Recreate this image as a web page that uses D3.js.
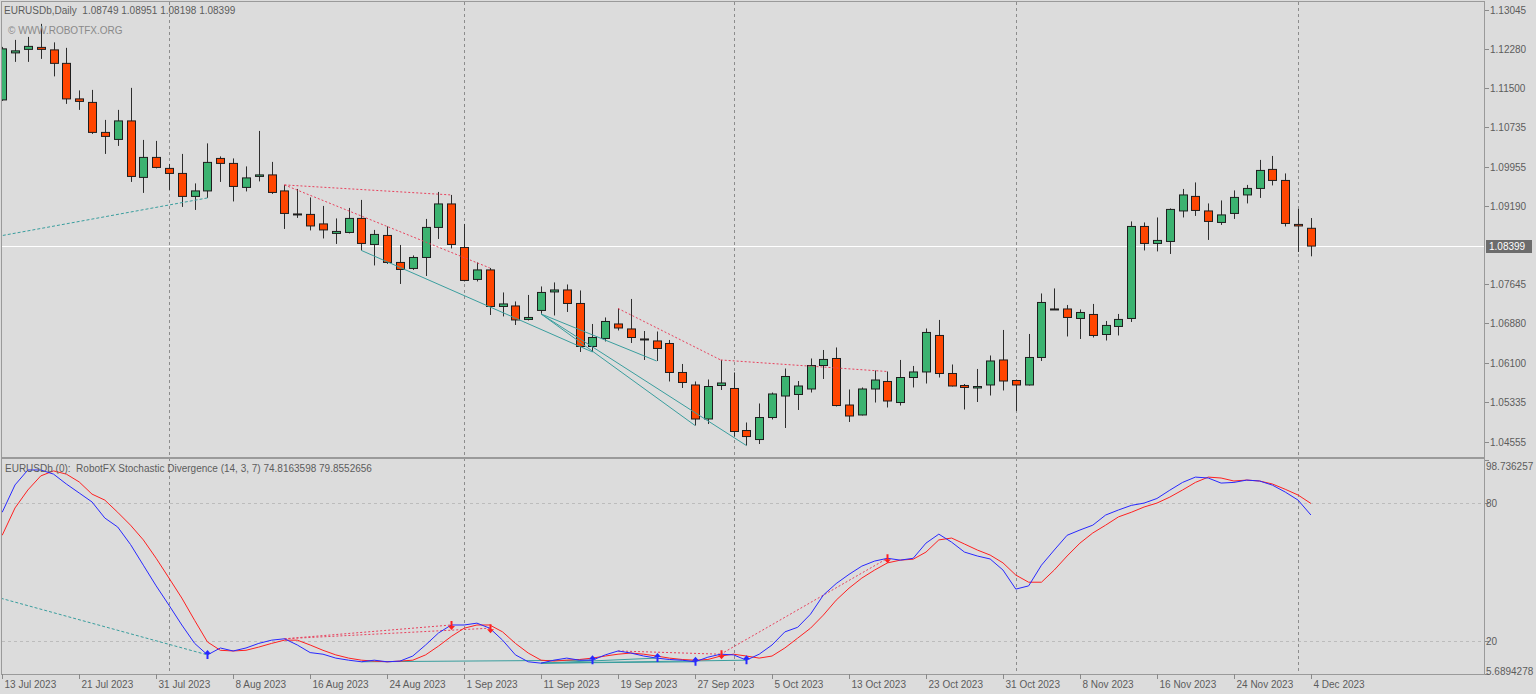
<!DOCTYPE html>
<html>
<head>
<meta charset="utf-8">
<script src="https://cdn.jsdelivr.net/npm/d3@7"></script>
<style>
  html, body { margin: 0; padding: 0; background: #dcdcdc; }
  svg { display: block; font-family: "Liberation Sans", Arial, sans-serif; }
  text { white-space: pre; }
</style>
</head>
<body>
<div id="chart"></div>
<script>
// EURUSDb Daily - candles + RobotFX Stochastic Divergence (14,3,7)

// --- data ---
const openP = [1.11274,1.12199,1.12268,1.12307,1.12258,1.11993,1.11294,1.11225,1.10635,1.10497,
  1.10861,1.09750,1.10143,1.09927,1.09828,1.09376,1.09484,1.10123,1.10025,1.09553,
  1.09769,1.09799,1.09484,1.09031,1.09022,1.08835,1.08648,1.08667,1.08943,1.08431,
  1.08608,1.08077,1.07959,1.08175,1.08766,1.09228,1.08372,1.07743,1.07930,1.07211,
  1.07221,1.06956,1.07133,1.07497,1.07536,1.07270,1.06424,1.06582,1.06867,1.06769,
  1.06572,1.06533,1.06483,1.05913,1.05667,1.04998,1.05657,1.05598,1.04771,1.04594,
  1.05027,1.05450,1.05480,1.05588,1.06050,1.06188,1.05273,1.05077,1.05588,1.05736,
  1.05322,1.05814,1.05923,1.06641,1.05893,1.05657,1.05608,1.05667,1.06159,1.05755,
  1.05667,1.06208,1.07162,1.07162,1.06975,1.07054,1.06660,1.06818,1.06975,1.08785,
  1.08451,1.08490,1.09090,1.09376,1.09090,1.08864,1.09041,1.09405,1.09533,1.09907,
  1.09690,1.08825,1.08749];
const highP = [1.12317,1.12455,1.12514,1.12770,1.12406,1.12298,1.11461,1.11471,1.10881,1.11078,
  1.11511,1.10487,1.10468,1.10015,1.10212,1.09632,1.10419,1.10163,1.10123,1.09966,
  1.10664,1.10055,1.09602,1.09523,1.09356,1.09189,1.08943,1.09149,1.09307,1.08717,
  1.08785,1.08421,1.08215,1.08933,1.09464,1.09405,1.08835,1.08077,1.07969,1.07487,
  1.07310,1.07438,1.07605,1.07684,1.07644,1.07526,1.06867,1.06995,1.07172,1.07359,
  1.06729,1.06719,1.06552,1.06080,1.05736,1.05775,1.06159,1.05913,1.04929,1.05303,
  1.05519,1.05991,1.05745,1.06188,1.06355,1.06405,1.05578,1.05618,1.05952,1.05932,
  1.06159,1.06041,1.06778,1.06946,1.06070,1.05686,1.05982,1.06247,1.06749,1.05775,
  1.06670,1.07467,1.07566,1.07241,1.07152,1.07261,1.06926,1.07064,1.08884,1.08864,
  1.08962,1.09140,1.09523,1.09651,1.09238,1.09297,1.09494,1.09602,1.10094,1.10172,
  1.09828,1.09130,1.08951];
const lowP = [1.11255,1.12022,1.12022,1.12081,1.11737,1.11196,1.11078,1.10605,1.10212,1.10369,
  1.09661,1.09445,1.09927,1.09504,1.09169,1.09110,1.09346,1.09661,1.09277,1.09474,
  1.09671,1.09425,1.08736,1.08953,1.08707,1.08549,1.08441,1.08648,1.08313,1.08018,
  1.08048,1.07654,1.07930,1.07811,1.08539,1.08353,1.07703,1.07703,1.07044,1.07015,
  1.06847,1.06936,1.07064,1.07034,1.07103,1.06316,1.06316,1.06523,1.06739,1.06493,
  1.06159,1.06139,1.05736,1.05608,1.04870,1.04899,1.05568,1.04653,1.04476,1.04506,
  1.04988,1.04821,1.05175,1.05519,1.05785,1.05244,1.04939,1.05067,1.05322,1.05224,
  1.05263,1.05618,1.05696,1.05814,1.05637,1.05185,1.05332,1.05460,1.05559,1.05155,
  1.05657,1.06139,1.07142,1.06621,1.06572,1.06601,1.06542,1.06641,1.06906,1.08313,
  1.08294,1.08244,1.08962,1.08992,1.08520,1.08815,1.08933,1.09238,1.09346,1.09592,
  1.08785,1.08284,1.08198];
const closeP = [1.12278,1.12239,1.12327,1.12268,1.11993,1.11294,1.11245,1.10635,1.10556,1.10861,
  1.09769,1.10143,1.09946,1.09828,1.09376,1.09484,1.10045,1.10025,1.09572,1.09740,
  1.09799,1.09454,1.09041,1.09022,1.08795,1.08717,1.08687,1.08943,1.08451,1.08628,
  1.08077,1.07939,1.08175,1.08766,1.09228,1.08431,1.07723,1.07930,1.07211,1.07261,
  1.06946,1.06995,1.07487,1.07536,1.07270,1.06424,1.06601,1.06916,1.06788,1.06601,
  1.06562,1.06385,1.05913,1.05716,1.04998,1.05637,1.05706,1.04752,1.04653,1.05027,
  1.05490,1.05834,1.05647,1.06050,1.06169,1.05263,1.05057,1.05588,1.05765,1.05352,
  1.05814,1.05923,1.06700,1.05893,1.05647,1.05618,1.05637,1.06139,1.05745,1.05667,
  1.06208,1.07290,1.07152,1.06995,1.07093,1.06641,1.06838,1.06956,1.08785,1.08451,
  1.08510,1.09120,1.09405,1.09100,1.08884,1.09012,1.09356,1.09533,1.09887,1.09690,
  1.08844,1.08795,1.08399];

// stochastic main (blue) and signal (red)
const stochMain = [76,87.9,94.4,94.4,92.6,88.3,84.4,80.5,73.5,69.6,
  62,53,44,35.6,27,19,14,17,15.7,17,
  19,20.4,21,18.3,15,14.3,12.6,11.7,11,11.7,
  11,11.3,13.5,18.3,23.5,27,27,27.8,25.6,20.4,
  14,11,10.4,11.7,12.6,11.7,11.7,14,15.7,14.8,
  13.5,12.6,12,11.7,11,13,14.3,14,11.7,14.3,
  18.3,24,26,31.7,40,45,49,52.6,54.8,56,
  55.2,56,62.6,66.5,63,58.7,57,55.7,50.9,42.6,
  44,53,59.6,66,68.3,70.4,74.8,77,79,80,
  82,85.6,89,91.3,90.9,88.7,89,90,89.6,87.8,
  84.8,81.3,74.8163598];
const stochSignal = [66,77.9,85.7,91.8,94,92.6,89.2,83.9,81.3,76,
  70.4,64,56,47.4,38.7,29,19.6,16,15.7,16,
  17.4,19,20.4,20.4,18.3,16,14,12.6,11.7,11.3,
  11,11.3,11.7,14,17.8,22,25.6,27,27,24,
  19,14.8,11.7,11.3,11.7,12,12.6,13.5,14.3,14.8,
  14.3,13.5,12.6,12,11.7,12,13.5,14.3,13.5,12.6,
  13.5,17,21.3,25.6,31.3,37.8,43,47.4,50.9,54,
  55.2,55.6,58.7,64,64.8,62.2,59.6,57.4,54,48.7,
  45.6,45.6,50.9,57,62.6,67,70.4,74,76,78.3,
  80,82.6,85.7,89,91.3,90.9,89.6,90,89.6,88.3,
  86,83.5,79.8552656];

// divergences: bar index pairs
const divFrom = [-8, 22, 22, 48, 56, 28, 42, 42, 42];
const divTo   = [16, 35, 38, 56, 69, 46, 51, 54, 58];
const divType = ["hiddenBull","bear","bear","bear","bear","bull","bull","bull","bull"];
// start of the hidden divergence lies before the first visible bar
const offBar = -8, offPrice = 1.08236, offOsc = 50.7;

// axis texts
const priceTicks = [1.13045,1.12280,1.11500,1.10735,1.09955,1.09190,1.07645,1.06880,1.06100,1.05335,1.04555];
const priceTickLabels = ["1.13045","1.12280","1.11500","1.10735","1.09955","1.09190","1.07645","1.06880","1.06100","1.05335","1.04555"];
const lastPrice = 1.08399;
const oscMax = 98.736257, oscMin = 5.6894278;
const oscLevels = [80, 20];
const dateBars = [0,6,12,18,24,30,36,42,48,54,60,66,72,78,84,90,96,102];
const dateLabels = ["13 Jul 2023","21 Jul 2023","31 Jul 2023","8 Aug 2023","16 Aug 2023","24 Aug 2023",
  "1 Sep 2023","11 Sep 2023","19 Sep 2023","27 Sep 2023","5 Oct 2023","13 Oct 2023","23 Oct 2023",
  "31 Oct 2023","8 Nov 2023","16 Nov 2023","24 Nov 2023","4 Dec 2023"];
const monthStartBars = [13, 36, 57, 79, 101];

// --- layout ---
const W = 1536, H = 694;
const plotRight = 1484;
const mainTop = 2, mainBottom = 456;
const subTop = 460, subBottom = 674;
const fontSize = "10px";

const svg = d3.select("#chart").append("svg")
  .attr("width", W).attr("height", H);

svg.append("rect").attr("width", W).attr("height", H).attr("fill", "#dcdcdc");

const x = d3.scaleLinear().domain([0, 102]).range([2.2, 1310.9]);
const y = d3.scaleLinear().domain([1.0427, 1.1320]).range([mainBottom, mainTop]);
const yo = d3.scaleLinear().domain([oscMin, oscMax]).range([subBottom, subTop]);

const textCol = "#5c5c5c";
const green = "#3cb371", red = "#ff4500";
const teal = "#3a9e9e", pink = "#e8415c";

svg.append("defs").append("clipPath").attr("id", "clipMain")
  .append("rect").attr("x", 2).attr("y", 2).attr("width", plotRight - 2).attr("height", mainBottom - 2);
svg.select("defs").append("clipPath").attr("id", "clipSub")
  .append("rect").attr("x", 2).attr("y", 459).attr("width", plotRight - 2).attr("height", subBottom - 459);

// month separators
monthStartBars.forEach(b => {
  svg.append("line")
    .attr("x1", Math.round(x(b)) + 0.5).attr("x2", Math.round(x(b)) + 0.5)
    .attr("y1", mainTop).attr("y2", subBottom)
    .attr("stroke", "#8c8c8c").attr("stroke-dasharray", "3,3");
});

// oscillator levels
oscLevels.forEach(v => {
  svg.append("line")
    .attr("x1", 2).attr("x2", plotRight)
    .attr("y1", Math.round(yo(v)) + 0.5).attr("y2", Math.round(yo(v)) + 0.5)
    .attr("stroke", "#bcbcbc").attr("stroke-dasharray", "3,3");
});

// current price line
svg.append("line")
  .attr("x1", 2).attr("x2", plotRight)
  .attr("y1", Math.round(y(lastPrice)) + 0.5).attr("y2", Math.round(y(lastPrice)) + 0.5)
  .attr("stroke", "#ffffff");

// --- candles ---
const bars = d3.range(openP.length);
const gMain = svg.append("g").attr("clip-path", "url(#clipMain)");

gMain.selectAll(".wick").data(bars).enter().append("line")
  .attr("class", "wick")
  .attr("x1", i => Math.round(x(i)) + 0.5).attr("x2", i => Math.round(x(i)) + 0.5)
  .attr("y1", i => y(highP[i])).attr("y2", i => y(lowP[i]))
  .attr("stroke", "#2e2e2e");

gMain.selectAll(".body").data(bars).enter().append("rect")
  .attr("class", "body")
  .attr("x", i => Math.round(x(i)) - 3.5)
  .attr("y", i => y(Math.max(openP[i], closeP[i])))
  .attr("width", 8)
  .attr("height", i => Math.max(1, Math.abs(y(openP[i]) - y(closeP[i]))))
  .attr("fill", i => closeP[i] >= openP[i] ? green : red)
  .attr("stroke", "#1e1e1e");

// divergence lines, price and oscillator
const gSub = svg.append("g").attr("clip-path", "url(#clipSub)");
const divStyle = {
  bear: { color: pink, dash: "2,2" },
  bull: { color: teal, dash: null },
  hiddenBull: { color: teal, dash: "3,2" }
};
divFrom.forEach((f, k) => {
  const t = divTo[k], type = divType[k];
  const bull = type !== "bear";
  const p0 = f === offBar ? offPrice : (bull ? lowP[f] : highP[f]);
  const p1 = bull ? lowP[t] : highP[t];
  const o0 = f === offBar ? offOsc : stochMain[f];
  const o1 = stochMain[t];
  const st = divStyle[type];
  gMain.append("line")
    .attr("x1", x(f)).attr("y1", y(p0)).attr("x2", x(t)).attr("y2", y(p1))
    .attr("stroke", st.color).attr("stroke-dasharray", st.dash);
  gSub.append("line")
    .attr("x1", x(f)).attr("y1", yo(o0)).attr("x2", x(t)).attr("y2", yo(o1))
    .attr("stroke", st.color).attr("stroke-dasharray", st.dash);
});

// --- stochastic lines ---
const line = arr => d3.line().x((d, i) => x(i)).y(d => yo(d))(arr);
gSub.append("path").attr("d", line(stochSignal))
  .attr("fill", "none").attr("stroke", "#ff2020");
gSub.append("path").attr("d", line(stochMain))
  .attr("fill", "none").attr("stroke", "#2828ff");

// arrows at divergence end bars
divTo.forEach((t, k) => {
  const cx = Math.round(x(t)) + 0.5, cy = yo(stochMain[t]);
  const up = divType[k] !== "bear";
  const s = up ? 1 : -1;
  const d = `M${cx},${cy - 5 * s} L${cx + 3.5},${cy - 1 * s} L${cx + 1},${cy - 1 * s} L${cx + 1},${cy + 4 * s}` +
            ` L${cx - 1},${cy + 4 * s} L${cx - 1},${cy - 1 * s} L${cx - 3.5},${cy - 1 * s} Z`;
  gSub.append("path").attr("d", d).attr("fill", up ? "#2828ff" : "#ff2020");
});

// --- frames ---
svg.append("rect").attr("x", 1.5).attr("y", 1.5).attr("width", plotRight - 1).attr("height", mainBottom)
  .attr("fill", "none").attr("stroke", "#9a9a9a");
svg.append("rect").attr("x", 1.5).attr("y", 458.5).attr("width", plotRight - 1).attr("height", subBottom - 458)
  .attr("fill", "none").attr("stroke", "#9a9a9a");

// --- right price axis ---
const axR = svg.append("g").style("font-size", fontSize).attr("fill", textCol);
priceTicks.forEach((p, k) => {
  const py = Math.round(y(p)) + 0.5;
  axR.append("line").attr("x1", plotRight + 1).attr("x2", plotRight + 5).attr("y1", py).attr("y2", py)
    .attr("stroke", "#8a8a8a");
  axR.append("text").attr("x", plotRight + 6).attr("y", py + 3.5).text(priceTickLabels[k]);
});
const lpY = Math.round(y(lastPrice));
axR.append("rect").attr("x", plotRight + 2).attr("y", lpY - 6).attr("width", 46).attr("height", 13)
  .attr("fill", "#6c6c6c");
axR.append("text").attr("x", plotRight + 5).attr("y", lpY + 4).attr("fill", "#ffffff").text(lastPrice.toFixed(5));

// oscillator axis
const oscLabels = [oscMax, 80, 20, oscMin];
const oscTexts = ["98.736257", "80", "20", "5.6894278"];
oscLabels.forEach((v, k) => {
  const py = Math.round(yo(v)) + 0.5;
  axR.append("line").attr("x1", plotRight + 1).attr("x2", plotRight + 5).attr("y1", py).attr("y2", py)
    .attr("stroke", "#8a8a8a");
  let ty = py + 3.5;
  if (k === 0) ty = py + 9;
  if (k === 3) ty = py;
  axR.append("text").attr("x", plotRight + 2).attr("y", ty).text(oscTexts[k]);
});

// --- bottom date axis ---
const axB = svg.append("g").style("font-size", fontSize).attr("fill", textCol);
dateBars.forEach((b, k) => {
  const px = Math.round(x(b)) + 0.5;
  axB.append("line").attr("x1", px).attr("x2", px).attr("y1", subBottom).attr("y2", subBottom + 5)
    .attr("stroke", "#8a8a8a");
  axB.append("text").attr("x", px + 2).attr("y", 688).text(dateLabels[k]);
});

// --- titles ---
svg.append("text").attr("x", 4).attr("y", 14).style("font-size", fontSize).attr("fill", textCol)
  .text("EURUSDb,Daily  1.08749 1.08951 1.08198 1.08399");
svg.append("text").attr("x", 8).attr("y", 34).style("font-size", fontSize).attr("fill", "#8a8a8a")
  .text("\u00A9 WWW.ROBOTFX.ORG");
svg.append("text").attr("x", 5).attr("y", 472).style("font-size", fontSize).attr("fill", textCol)
  .text("EURUSDb (0):  RobotFX Stochastic Divergence (14, 3, 7) 74.8163598 79.8552656");
</script>
</body>
</html>
